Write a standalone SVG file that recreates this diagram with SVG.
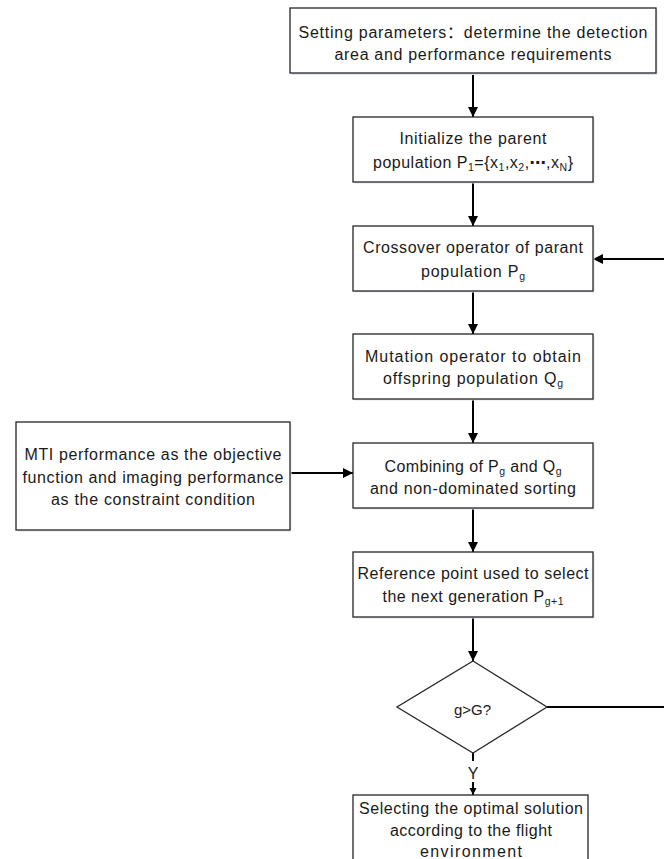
<svg xmlns="http://www.w3.org/2000/svg" width="664" height="859" viewBox="0 0 664 859">
<style>
text{font-family:"Liberation Sans","Noto Sans CJK SC",sans-serif;font-size:16px;fill:#1a1a1a;text-anchor:middle}
.sub{font-size:10.5px}
.dots{font-family:"DejaVu Sans",sans-serif;font-weight:bold}
.box{fill:#fff;stroke:#262626;stroke-width:1.3}
.sh{fill:#dfe6ef;stroke:none}
.ln{fill:none;stroke:#000;stroke-width:2}
</style>
<defs>
<marker id="ah" viewBox="0 0 10 10" refX="10" refY="5" markerWidth="10" markerHeight="10" markerUnits="userSpaceOnUse" orient="auto">
<path d="M0,0 L10,5 L0,10 z" fill="#000"/>
</marker>
<marker id="ahs" viewBox="0 0 10 10" refX="10" refY="5" markerWidth="7" markerHeight="9" markerUnits="userSpaceOnUse" orient="auto">
<path d="M0,0 L10,5 L0,10 z" fill="#000"/>
</marker>
</defs>
<g id="connectors">
<line class="ln" x1="473" y1="73" x2="473" y2="117" marker-end="url(#ah)"/>
<line class="ln" x1="473" y1="182" x2="473" y2="226" marker-end="url(#ah)"/>
<line class="ln" x1="473" y1="291" x2="473" y2="334" marker-end="url(#ah)"/>
<line class="ln" x1="473" y1="399" x2="473" y2="443" marker-end="url(#ah)"/>
<line class="ln" x1="473" y1="508" x2="473" y2="552" marker-end="url(#ah)"/>
<line class="ln" x1="473" y1="617" x2="473" y2="661" marker-end="url(#ah)"/>
<line class="ln" x1="290" y1="473" x2="353" y2="473" marker-end="url(#ah)"/>
<line class="ln" x1="665" y1="259" x2="593" y2="259" marker-end="url(#ah)"/>
<line class="ln" x1="547" y1="707" x2="665" y2="707"/>
<line class="ln" x1="473" y1="753" x2="473" y2="761"/>
<line class="ln" x1="473" y1="782" x2="473" y2="795" marker-end="url(#ahs)"/>
<text x="473" y="778.5">Y</text>
</g>
<g id="n1">
<rect class="sh" x="291.5" y="9.5" width="366" height="65.5"/>
<rect class="box" x="290" y="8" width="366" height="65"/>
<text x="473" y="37.5" textLength="349">Setting parameters：determine the detection</text>
<text x="473" y="60" textLength="277">area and performance requirements</text>
</g>
<g id="n2">
<rect class="sh" x="354.5" y="118.5" width="240" height="65"/>
<rect class="box" x="353" y="117" width="240" height="65"/>
<text x="473" y="144" textLength="147">Initialize the parent</text>
<text x="473" y="167.5" textLength="200">population P<tspan class="sub" dy="3">1</tspan><tspan dy="-3">={x</tspan><tspan class="sub" dy="3">1</tspan><tspan dy="-3">,x</tspan><tspan class="sub" dy="3">2</tspan><tspan dy="-3">,</tspan><tspan class="dots">⋯</tspan><tspan>,x</tspan><tspan class="sub" dy="3">N</tspan><tspan dy="-3">}</tspan></text>
</g>
<g id="n3">
<rect class="sh" x="354.5" y="227.5" width="240" height="65"/>
<rect class="box" x="353" y="226" width="240" height="65"/>
<text x="473" y="253" textLength="220">Crossover operator of parant</text>
<text x="473" y="276.5" textLength="104">population P<tspan class="sub" dy="3">g</tspan></text>
</g>
<g id="n4">
<rect class="sh" x="354.5" y="335.5" width="240" height="65"/>
<rect class="box" x="353" y="334" width="240" height="65"/>
<text x="473" y="362" textLength="216">Mutation operator to obtain</text>
<text x="473" y="384" textLength="180">offspring population Q<tspan class="sub" dy="3">g</tspan></text>
</g>
<g id="n5">
<rect class="sh" x="354.5" y="444.5" width="240" height="65"/>
<rect class="box" x="353" y="443" width="240" height="65"/>
<text x="473" y="471.5" textLength="177">Combining of P<tspan class="sub" dy="3">g</tspan><tspan dy="-3"> and Q</tspan><tspan class="sub" dy="3">g</tspan></text>
<text x="473" y="494" textLength="206">and non-dominated sorting</text>
</g>
<g id="n_obj">
<rect class="sh" x="17.5" y="423.5" width="274" height="108"/>
<rect class="box" x="16" y="422" width="274" height="108"/>
<text x="153" y="460" textLength="257">MTI performance as the objective</text>
<text x="153" y="482.5" textLength="261">function and imaging performance</text>
<text x="153" y="505" textLength="204">as the constraint condition</text>
</g>
<g id="n6">
<rect class="sh" x="354.5" y="553.5" width="240" height="65"/>
<rect class="box" x="353" y="552" width="240" height="65"/>
<text x="473" y="579" textLength="231">Reference point used to select</text>
<text x="473" y="602" textLength="181">the next generation P<tspan class="sub" dy="3">g+1</tspan></text>
</g>
<g id="n_dec">
<polygon points="473,661 547,707 473,753 397,707" fill="#fff" stroke="#262626" stroke-width="1.3"/>
<text x="472.5" y="715" style="font-size:15px">g&gt;G?</text>
</g>
<g id="n7">
<rect class="box" x="353" y="795" width="235" height="80"/>
<text x="471" y="813.5" textLength="224">Selecting the optimal solution</text>
<text x="471" y="835.5" textLength="162">according to the flight</text>
<text x="471" y="857" textLength="102">environment</text>
</g>
</svg>
